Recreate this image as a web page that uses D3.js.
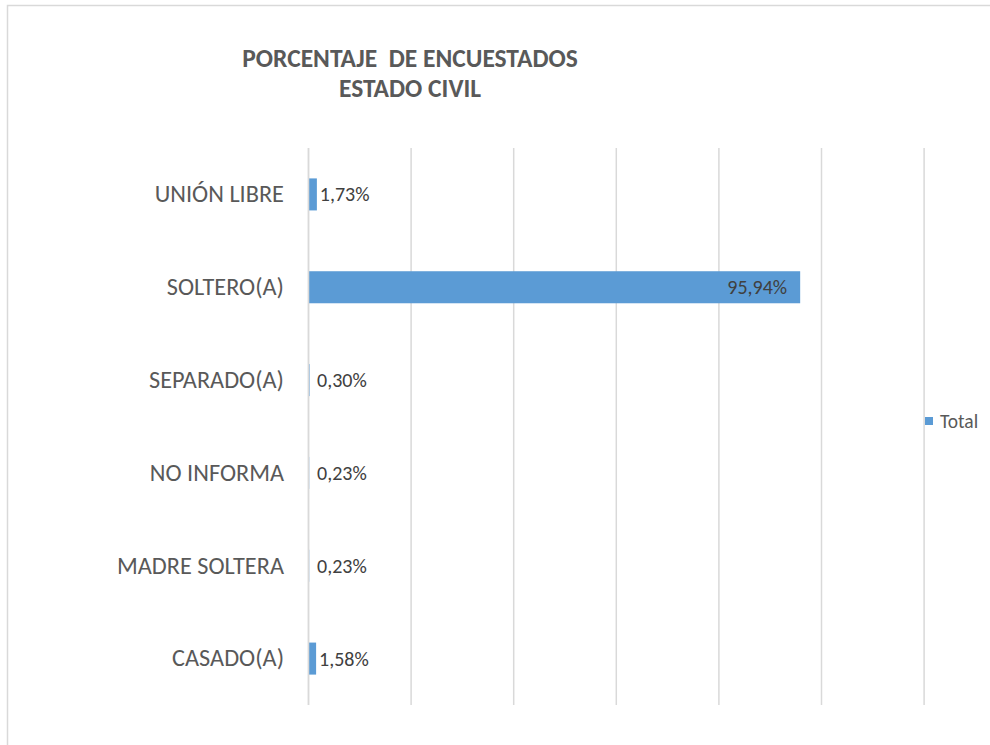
<!DOCTYPE html>
<html><head><meta charset="utf-8">
<script src="https://cdn.jsdelivr.net/npm/d3@7"></script>
<style>body{margin:0;background:#fff;} text{font-family:Carlito, Calibri, Lato, sans-serif;}</style>
</head><body>
<svg id="c" width="990" height="745"></svg>
<script>
const categories = ["UNIÓN LIBRE","SOLTERO(A)","SEPARADO(A)","NO INFORMA","MADRE SOLTERA","CASADO(A)"];
const values = [1.73, 95.94, 0.30, 0.23, 0.23, 1.58];
const valueLabels = ["1,73%","95,94%","0,30%","0,23%","0,23%","1,58%"];
const xTicks = [0,20,40,60,80,100,120];
const titleLines = ["PORCENTAJE  DE ENCUESTADOS","ESTADO CIVIL"];
const seriesName = "Total";
const FONT = "Carlito, Calibri, Lato, sans-serif";

const svg = d3.select("#c");
svg.append("rect").attr("x",7.5).attr("y",5.5).attr("width",990).attr("height",760)
  .attr("fill","#fff").attr("stroke","#d9d9d9").attr("stroke-width",1.5);

const m = {left:308, right:923.6, top:148, bottom:705};
const x = d3.scaleLinear().domain([0,120]).range([m.left,m.right]);
const y = d3.scaleBand().domain(categories).range([m.top,m.bottom]).paddingInner(0.655).paddingOuter(0.3275);

const grid = d3.axisBottom(x).tickValues(xTicks).tickSize(-(m.bottom-m.top)).tickFormat("");
const styleGrid = g=>{g.select(".domain").remove(); g.selectAll("line").attr("stroke","#d9d9d9").attr("stroke-width",1.5);};
svg.append("g").attr("transform",`translate(0,${m.bottom})`).call(grid).call(styleGrid);

svg.selectAll("rect.bar").data(values).join("rect").attr("class","bar")
  .attr("x",x(0)).attr("y",(d,i)=>y(categories[i]))
  .attr("width",d=>x(d)-x(0)).attr("height",y.bandwidth()).attr("fill","#5b9bd5");

// zero line on top
svg.append("g").attr("transform",`translate(0,${m.bottom})`)
  .call(d3.axisBottom(x).tickValues([0]).tickSize(-(m.bottom-m.top)).tickFormat("")).call(styleGrid);

const yAx = d3.axisLeft(y).tickSize(0).tickPadding(24);
svg.append("g").attr("transform",`translate(${m.left},0)`).call(yAx)
  .call(g=>{g.select(".domain").remove(); g.selectAll("text").attr("fill","#595959").attr("font-size",24.3).attr("font-family",FONT);});

svg.selectAll("text.lbl").data(values).join("text").attr("class","lbl")
  .attr("x",d=> d>50 ? x(d)-13 : Math.max(x(d)+3, x(0)+9))
  .attr("text-anchor",d=> d>50 ? "end":"start")
  .attr("y",(d,i)=>y(categories[i])+y.bandwidth()/2).attr("dy","0.35em")
  .attr("font-size",20).attr("fill","#404040").text((d,i)=>valueLabels[i]);

svg.selectAll("text.title").data(titleLines).join("text").attr("class","title")
  .attr("x",410).attr("y",(d,i)=>58+i*30).attr("dy","0.35em").attr("text-anchor","middle")
  .attr("font-size",25.5).attr("font-weight","bold").attr("fill","#595959")
  .style("white-space","pre").text(d=>d);

svg.append("rect").attr("x",925).attr("y",417).attr("width",8).attr("height",8).attr("fill","#5b9bd5");
svg.append("text").attr("x",940).attr("y",421).attr("dy","0.35em").attr("font-size",19.5).attr("fill","#595959").text(seriesName);
</script>
</body></html>
